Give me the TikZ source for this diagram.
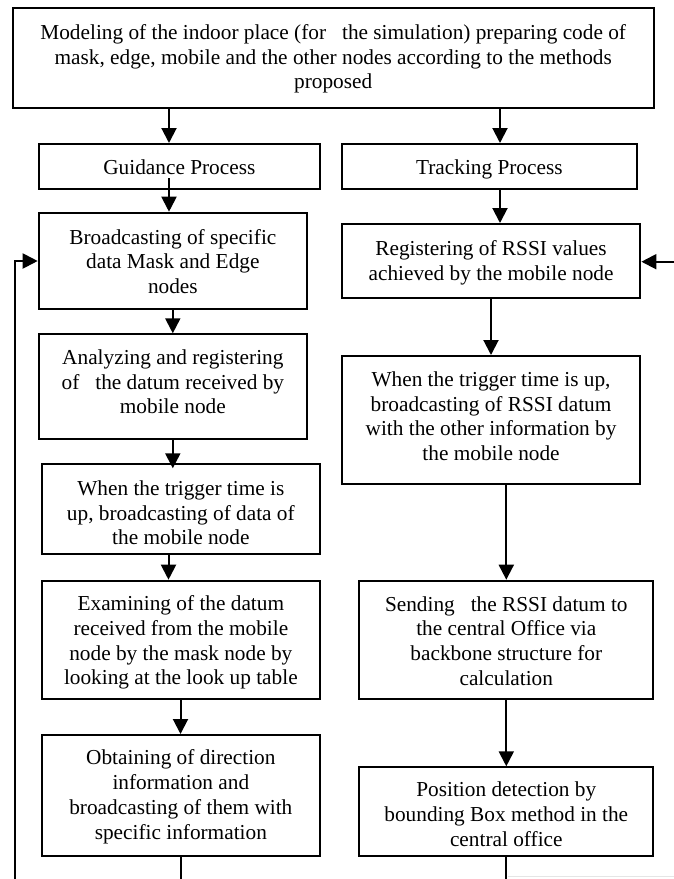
\documentclass[tikz,border=0pt]{standalone}
\usepackage{fontspec}
\setmainfont{Liberation Serif}
\usetikzlibrary{arrows.meta}
\newcommand{\shtext}[2]{\raisebox{#1}[\height][\depth]{\begin{tabular}{@{}c@{}}#2\end{tabular}}}
\begin{document}
\begin{tikzpicture}[x=1pt,y=-1pt,
  box/.style={draw, line width=2pt, inner sep=0pt,
    font=\fontsize{21.3}{24.7}\selectfont},
  arr/.style={line width=2pt, -{Triangle[width=15pt,length=15pt]}},
  plain/.style={line width=2pt}]
\useasboundingbox (0,0) rectangle (674,879);

\node[box, minimum width=640.6pt, minimum height=100pt] (top) at (333.2,58.3)
  {\shtext{-1pt}{Modeling of the indoor place (for\ \ \ the simulation) preparing code of\\
   mask, edge, mobile and the other nodes according to the methods\\ proposed}};
\node[box, minimum width=281.3pt, minimum height=45pt] (guid) at (179.35,166.5) {\shtext{-3pt}{Guidance Process}};
\node[box, minimum width=295.3pt, minimum height=45pt] (track) at (489.35,166.5) {\shtext{-3pt}{Tracking Process}};
\node[box, minimum width=268.3pt, minimum height=96.6pt] (bcast) at (172.85,261)
  {\shtext{-3pt}{Broadcasting of specific\\ data Mask and Edge\\ nodes}};
\node[box, minimum width=298.7pt, minimum height=73.7pt] (reg) at (491.05,260.85)
  {\shtext{-2pt}{Registering of RSSI values\\ achieved by the mobile node}};
\node[box, minimum width=268.3pt, minimum height=104.7pt] (anal) at (172.85,386.65)
  {\shtext{2.5pt}{Analyzing and registering\\ of\ \ \ the datum received by\\ mobile node}};
\node[box, minimum width=278.3pt, minimum height=89.7pt] (when1) at (180.85,509.15)
  {\shtext{-6pt}{When the trigger time is\\ up, broadcasting of data of\\ the mobile node}};
\node[box, minimum width=298.7pt, minimum height=128.3pt] (when2) at (491.05,420.15)
  {\shtext{1.5pt}{When the trigger time is up,\\ broadcasting of RSSI datum\\ with the other information by\\ the mobile node}};
\node[box, minimum width=278.3pt, minimum height=118.3pt] (exam) at (180.85,639.85)
  {\shtext{-3pt}{Examining of the datum\\ received from the mobile\\ node by the mask node by\\ looking at the look up table}};
\node[box, minimum width=294pt, minimum height=118.3pt] (send) at (506.3,639.85)
  {\shtext{-3.5pt}{Sending\ \ \ the RSSI datum to\\ the central Office via\\ backbone structure for\\ calculation}};
\node[box, minimum width=278.3pt, minimum height=121pt] (obt) at (180.85,795.5)
  {\shtext{-1.5pt}{Obtaining of direction\\ information and\\ broadcasting of them with\\ specific information}};
\node[box, minimum width=294pt, minimum height=88.7pt] (pos) at (506.3,811.65)
  {\shtext{-5pt}{Position detection by\\ bounding Box method in the\\ central office}};

\coordinate (xa) at (169,0);
\coordinate (xb) at (500,0);
\coordinate (xc) at (172.8,0);
\coordinate (xd) at (168.5,0);
\coordinate (xe) at (180.5,0);
\coordinate (xf) at (491,0);
\coordinate (xg) at (506.3,0);
\coordinate (leftbot) at (15,879);
\coordinate (rightin) at (674,261.7);
\coordinate (obtbot) at (180.5,879);
\coordinate (posbot) at (506.3,879);

\draw[arr] (top.south -| xa) -- (guid.north -| xa);
\draw[arr] (top.south -| xb) -- (track.north -| xb);
\draw[arr] ([yshift=12pt]guid.south -| xa) -- (bcast.north -| xa);
\draw[arr] (track.south -| xb) -- (reg.north -| xb);
\draw[arr] (bcast.south -| xc) -- (anal.north -| xc);
\draw[arr] (anal.south -| xc) -- ([yshift=-5pt]when1.north -| xc);
\draw[arr] (when1.south -| xd) -- (exam.north -| xd);
\draw[arr] (exam.south -| xe) -- (obt.north -| xe);
\draw[arr] (reg.south -| xf) -- (when2.north -| xf);
\draw[arr] (when2.south -| xg) -- (send.north -| xg);
\draw[arr] (send.south -| xg) -- (pos.north -| xg);
\draw[plain] (obt.south -| xe) -- (obtbot);
\draw[plain] (pos.south -| xg) -- (posbot);
\draw[arr] (leftbot) |- (bcast.west);
\draw[arr] (rightin) -- (reg.east |- rightin);
\draw[gray!20, line width=0.8pt] (508,876.7) -- (674,876.7);
\end{tikzpicture}
\end{document}
